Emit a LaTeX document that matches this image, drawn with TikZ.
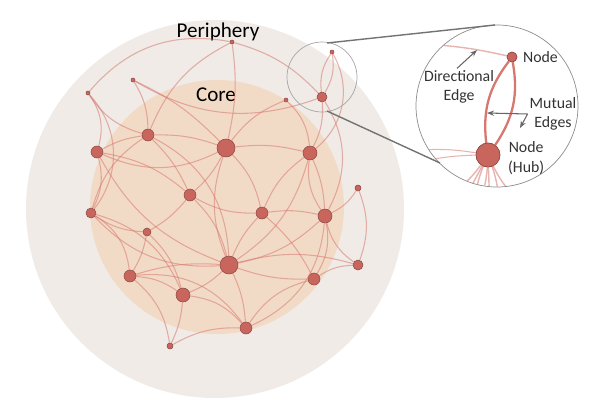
\documentclass[tikz,border=0pt]{standalone}
\usepackage{fontspec}
\setmainfont{Carlito}
\usetikzlibrary{arrows.meta}
\definecolor{peri}{RGB}{240,235,230}
\definecolor{corec}{RGB}{243,215,190}
\definecolor{edgec}{RGB}{214,120,112}
\definecolor{nodec}{RGB}{200,102,94}
\tikzstyle{vert}=[circle,fill=nodec,draw=nodec!70!black,line width=0.3pt,inner sep=0pt]
\tikzstyle{edg}=[edgec,opacity=0.55,line width=0.6pt]
\tikzstyle{lab}=[font=\small,text=black!80,align=center,inner sep=1pt]
\tikzstyle{pointer}=[-{Stealth[length=4pt]},black!60,line width=0.6pt]
\newcommand{\vtx}[4]{
  \node[vert,minimum size=#4*2*0.02cm] (#1) at (#2,#3) {};
}

\begin{document}
\begin{tikzpicture}[x=0.02cm,y=-0.02cm]
\useasboundingbox (0,0) rectangle (609,400);

  \fill[peri] (215,209) circle (189);
  \fill[corec,opacity=0.8] (217,207) circle (127);
  \node[font=\large] (peri) at (218,32) {Periphery};
  \node[font=\large] (core) at (216,95) {Core};

\vtx{n1}{232}{42}{2}
\vtx{n2}{133}{80}{2}
\vtx{n3}{88}{93}{2}
\vtx{n4}{322}{97}{5}
\vtx{n5}{286}{100}{2}
\vtx{n6}{148}{135}{6}
\vtx{n7}{226}{148}{9}
\vtx{n8}{97}{152}{6}
\vtx{n9}{310}{153}{7}
\vtx{n10}{358}{188}{3}
\vtx{n11}{190}{195}{6}
\vtx{n12}{91}{213}{5}
\vtx{n13}{262}{213}{6}
\vtx{n14}{325}{216}{7}
\vtx{n15}{147}{232}{4}
\vtx{n16}{229}{265}{9}
\vtx{n17}{358}{265}{5}
\vtx{n18}{130}{276}{6}
\vtx{n19}{183}{295}{7}
\vtx{n20}{314}{279}{6}
\vtx{n21}{246}{328}{6}
\vtx{n22}{170}{346}{3}
\vtx{n23}{332}{52}{2}

  \foreach \a/\b/\bd in {n23/n4/20,n4/n23/20,n1/n4/15,n2/n7/10,n3/n8/25,n3/n6/-20,n2/n6/15,
      n6/n7/10,n7/n9/10,n9/n4/-15,n8/n6/10,n8/n12/20,n12/n18/25,n18/n19/15,n19/n21/20,
      n21/n20/20,n20/n17/15,n17/n14/20,n14/n9/20,n9/n14/10,n10/n14/15,n7/n11/10,n11/n16/15,
      n16/n13/10,n13/n9/15,n16/n18/-10,n16/n19/10,n16/n20/-10,n16/n21/10,n16/n14/-15,
      n11/n15/10,n15/n18/10,n12/n15/-15,n6/n11/10,n7/n13/15,n13/n14/10,n5/n9/20,n5/n7/-15,
      n1/n7/10,n1/n6/-20,n8/n16/-20,n6/n16/30,n7/n16/-20,n4/n14/30,n19/n22/10,n22/n21/15,
      n12/n19/25,n18/n21/30,n20/n14/-20,n17/n16/-15,n3/n12/40,n1/n3/-30,n23/n9/40,
      n8/n7/-25,n11/n13/-15,n15/n19/15,n9/n16/20,n6/n12/-20,n2/n4/-25,n13/n20/10,
      n10/n17/20,n18/n22/20,n21/n14/-30,n12/n16/-25,n8/n11/15}
    \draw[edg] (\a) to[bend left=\bd] (\b);

  % magnified region
  \coordinate (mag) at (322,77);
  \draw[black!35] (mag) circle (35);
  \fill[white] (497,106) circle (81);
  \draw[black!45] (497,106) circle (81);
  \draw[black!55,line width=0.8pt] (327,43) -- (495,25);
  \draw[black!55,line width=0.8pt] (327,111) -- (440,163);

  \begin{scope}
    \clip (497,106) circle (80.5);
    \node[vert,minimum size=0.2cm] (top) at (512,57) {};
    \node[vert,minimum size=0.48cm] (hub) at (488,155) {};
    \coordinate (dl) at (420,44);
    \draw[edg,line width=0.8pt] (dl) to[bend left=5] (top);
    \draw[edgec,line width=1.3pt] (hub) to[bend left=22] (top);
    \draw[edgec,line width=1.3pt] (top) to[bend left=22] (hub);
    \foreach \ang/\bd in {60/-5,75/5,88/0,98/5,108/-5,118/0,130/5}
      \draw[edg,line width=0.8pt] (hub) to[bend left=\bd] ++(\ang:40);
    \draw[edg] (hub) to[bend right=8] (400,168);
    \draw[edg] (hub) to[bend right=6] (420,150);
  \end{scope}
  \node[vert,minimum size=0.2cm] at (top) {};
  \node[vert,minimum size=0.48cm] at (hub) {};

  \node[lab,anchor=west] (ltop) at (521,57) {Node};
  \node[lab] (ldir) at (459,87) {Directional\\Edge};
  \node[lab] (lmut) at (553,114) {Mutual\\Edges};
  \node[lab,anchor=west] (lhub) at (506,158) {Node\\(Hub)};
  \draw[pointer] (ldir.north) ++(-2,0) -- (477,50);
  \draw[pointer] (lmut.west) -- (487,113);
  \draw[pointer] (lmut.west) -- (520,128);
\end{tikzpicture}
\end{document}
